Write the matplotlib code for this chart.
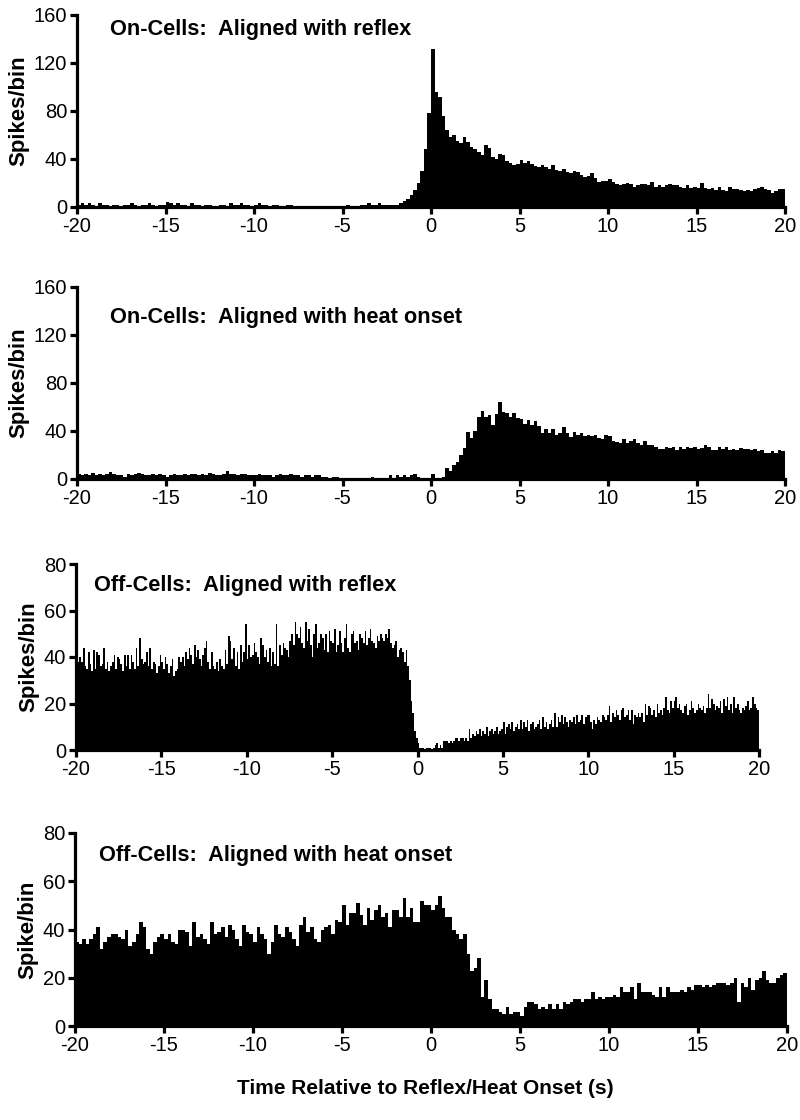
import numpy as np
import matplotlib
matplotlib.use("Agg")
import matplotlib.pyplot as plt

plt.rcParams['font.family'] = ['Liberation Sans', 'DejaVu Sans']

# ---- data: spikes per bin ----
# on-cells aligned with reflex, 0.2 s bins from -20 s
on_reflex = [
    2, 3, 2, 3, 2, 1, 3, 2, 2, 1, 2, 2, 1, 2, 2, 3, 2, 1, 2, 2, 3, 2, 1, 2, 2,
    4, 3, 2, 3, 2, 2, 1, 3, 2, 2, 1, 2, 2, 1, 1, 2, 2, 1, 3, 2, 2, 3, 2, 2, 1,
    2, 3, 2, 2, 1, 2, 2, 1, 1, 2, 2, 1, 1, 0, 1, 1, 1, 0, 1, 1, 1, 1, 0, 1, 1,
    1, 2, 1, 1, 1, 2, 2, 3, 2, 2, 3, 2, 2, 2, 2, 2, 3,
    5, 7, 10, 14, 20, 30, 48, 78,
    132, 96, 92, 76, 64, 58, 60, 55, 53, 58,
    54, 50, 48, 46, 43, 52, 49, 42, 40, 44,
    43, 38, 37, 35, 36, 39, 37, 38, 36, 34,
    33, 35, 33, 32, 35, 31, 30, 32, 29, 28,
    30, 29, 27, 25, 26, 28, 24, 21, 22, 22,
    23, 21, 19, 18, 19, 20, 19, 17, 18, 19,
    19, 18, 21, 17, 18, 17, 18, 19, 18, 18,
    17, 16, 18, 16, 17, 16, 20, 16, 15, 16,
    14, 17, 14, 13, 17, 15, 15, 14, 13, 14,
    13, 15, 16, 17, 15, 14, 12, 13, 15, 15,
]

# on-cells aligned with heat onset, 0.2 s bins
on_heat = [
    4, 3, 4, 3, 5, 3, 4, 3, 4, 6, 4, 3, 3, 2, 4, 3, 4, 5, 4, 3, 3, 4, 3, 4, 3,
    2, 3, 4, 3, 3, 4, 3, 4, 4, 3, 4, 3, 5, 4, 3, 3, 4, 7, 4, 4, 3, 4, 4, 3, 3,
    3, 4, 3, 3, 3, 2, 3, 4, 3, 3, 4, 3, 3, 2, 3, 3, 2, 3, 3, 2, 2, 1, 2, 2, 1,
    1, 0, 1, 0, 1, 0, 1, 0, 2, 1, 1, 0, 1, 3, 1, 3, 2, 3, 2, 3, 4, 2, 1, 1, 1,
    4, 1, 1, 2, 9, 7, 12, 14, 20, 26,
    39, 34, 40, 52, 57, 52, 53, 45, 54, 64,
    56, 55, 52, 55, 51, 50, 46, 49, 45, 48,
    44, 38, 42, 38, 42, 37, 38, 43, 38, 35,
    39, 37, 38, 36, 37, 36, 37, 34, 33, 37,
    36, 32, 31, 30, 33, 30, 32, 33, 30, 28,
    32, 28, 28, 27, 25, 25, 27, 26, 27, 24,
    27, 25, 27, 26, 27, 25, 26, 28, 27, 24,
    24, 27, 25, 27, 24, 25, 24, 26, 25, 25,
    24, 25, 23, 24, 22, 22, 23, 22, 24, 23,
]

# off-cells aligned with reflex, 0.1 s bins
off_reflex = [
    34, 38, 40, 38, 44, 36, 35, 42, 37, 34,
    43, 35, 42, 41, 36, 37, 44, 35, 38, 34,
    36, 38, 41, 35, 40, 39, 37, 34, 41, 36,
    41, 35, 41, 38, 35, 44, 36, 48, 39, 37,
    38, 42, 36, 44, 35, 38, 37, 33, 36, 41,
    38, 35, 40, 37, 33, 36, 39, 32, 34, 35,
    40, 38, 40, 36, 42, 39, 44, 41, 37, 45,
    40, 43, 39, 36, 41, 44, 47, 38, 35, 42,
    36, 35, 38, 34, 39, 36, 35, 43, 37, 49,
    47, 39, 44, 36, 42, 35, 45, 38, 42, 54,
    39, 45, 40, 41, 46, 42, 40, 37, 48, 45,
    40, 43, 38, 44, 36, 42, 37, 54, 36, 45,
    41, 46, 44, 43, 40, 47, 50, 45, 55, 50,
    48, 53, 46, 44, 55, 47, 52, 45, 40, 50,
    54, 44, 46, 50, 48, 43, 50, 42, 51, 47,
    46, 52, 42, 45, 51, 46, 42, 48, 54, 44,
    42, 50, 51, 46, 47, 43, 50, 48, 46, 51,
    45, 48, 52, 47, 46, 44, 49, 47, 50, 48,
    47, 50, 48, 52, 46, 44, 45, 47, 40, 43,
    44, 42, 38, 43, 36, 30, 21, 16, 8, 5,
    3, 1, 1, 1, 0, 1, 1, 1, 0, 1,
    2, 3, 1, 2, 1, 4, 4, 4, 3, 4,
    3, 4, 5, 5, 4, 5, 5, 4, 5, 4,
    9, 5, 7, 6, 8, 7, 9, 6, 8, 7,
    10, 6, 8, 9, 7, 8, 10, 7, 8, 9,
    12, 7, 10, 11, 9, 12, 8, 10, 11, 9,
    13, 9, 12, 10, 13, 8, 11, 12, 9, 10,
    11, 13, 9, 14, 10, 12, 9, 11, 13, 10,
    16, 10, 14, 12, 15, 11, 14, 12, 10, 13,
    12, 14, 11, 15, 12, 13, 15, 11, 14, 15,
    15, 12, 9, 13, 11, 14, 13, 12, 15, 14,
    13, 15, 19, 12, 16, 14, 17, 15, 13, 17,
    18, 14, 15, 17, 13, 17, 11, 15, 14, 16,
    14, 16, 12, 20, 15, 19, 18, 15, 17, 14,
    20, 16, 17, 15, 18, 23, 17, 16, 21, 18,
    21, 23, 18, 20, 17, 16, 19, 20, 15, 17,
    21, 18, 16, 17, 20, 18, 17, 19, 16, 18,
    24, 18, 22, 20, 17, 19, 18, 21, 16, 22,
    19, 23, 17, 20, 16, 23, 18, 20, 17, 16,
    18, 17, 19, 21, 17, 18, 23, 20, 18, 17,
]

# off-cells aligned with heat onset, 0.2 s bins
off_heat = [
    35, 34, 36, 34, 36, 38, 41, 32, 35, 37,
    38, 38, 37, 36, 40, 33, 35, 38, 43, 41,
    32, 30, 35, 37, 38, 36, 38, 35, 34, 40,
    40, 39, 33, 43, 37, 38, 36, 34, 43, 38,
    39, 41, 37, 42, 40, 36, 33, 42, 39, 38,
    35, 41, 38, 36, 30, 35, 42, 38, 37, 41,
    39, 36, 33, 42, 45, 39, 41, 36, 35, 40,
    41, 42, 38, 44, 43, 50, 42, 47, 47, 51,
    46, 42, 49, 44, 48, 50, 45, 47, 41, 48,
    48, 45, 53, 45, 49, 43, 43, 52, 50, 50,
    48, 50, 54, 49, 45, 45, 40, 38, 36, 38,
    30, 23, 24, 28, 12, 19, 11, 7, 7, 6,
    5, 8, 5, 6, 6, 4, 8, 10, 10, 9,
    7, 8, 7, 9, 7, 9, 7, 10, 9, 10,
    11, 11, 10, 11, 11, 14, 11, 12, 11, 12,
    12, 13, 12, 16, 14, 14, 16, 11, 18, 14,
    14, 14, 13, 12, 16, 12, 16, 14, 14, 14,
    15, 14, 16, 15, 17, 17, 16, 17, 16, 17,
    18, 18, 18, 17, 18, 20, 10, 18, 16, 20,
    15, 19, 20, 23, 19, 18, 18, 20, 21, 22,
]

titles = ["On-Cells:  Aligned with reflex",
          "On-Cells:  Aligned with heat onset",
          "Off-Cells:  Aligned with reflex",
          "Off-Cells:  Aligned with heat onset"]
ylabels = ["Spikes/bin", "Spikes/bin", "Spikes/bin", "Spike/bin"]
series = [on_reflex, on_heat, off_reflex, off_heat]
ymax = [160, 160, 80, 80]
ystep = [40, 40, 20, 20]
xticks = [-20, -15, -10, -5, 0, 5, 10, 15, 20]

# axes rectangles in pixels: left, top (y=max), right (x=20), bottom (y=0)
W, H = 800, 1120
boxes = [(77, 15, 785, 207), (77, 287, 785, 479),
         (76, 564, 759, 750), (75, 833, 787, 1026)]
title_pos = [(110, 30), (110, 318), (94, 585), (99, 856)]

fig = plt.figure(figsize=(8, 11.2), dpi=100)

for i in range(4):
    l, t, r, b = boxes[i]
    ax = fig.add_axes([l / W, 1 - b / H, (r - l) / W, (b - t) / H])
    vals = np.array(series[i], dtype=float)
    edges = np.linspace(-20, 20, len(vals) + 1)
    ax.stairs(vals, edges, fill=True, color='black', linewidth=0)
    ax.set_xlim(-20, 20)
    ax.set_ylim(0, ymax[i])
    ax.set_xticks(xticks)
    ax.set_xticklabels([str(v) for v in xticks])
    ax.set_yticks(np.arange(0, ymax[i] + 1, ystep[i]))
    for s in ['top', 'right']:
        ax.spines[s].set_visible(False)
    for s in ['left', 'bottom']:
        ax.spines[s].set_linewidth(2.3)
    ax.tick_params(width=2.3, length=5, labelsize=14.5, pad=2)
    ax.set_ylabel(ylabels[i], fontsize=16, fontweight='bold', labelpad=3)
    fig.text(title_pos[i][0] / W, 1 - title_pos[i][1] / H, titles[i],
             fontsize=15.7, fontweight='bold', va='center', ha='left')

fig.text(425 / W, 1 - 1089 / H, "Time Relative to Reflex/Heat Onset (s)",
         fontsize=15, fontweight='bold', ha='center', va='center')

fig.savefig("out.png", dpi=100)
